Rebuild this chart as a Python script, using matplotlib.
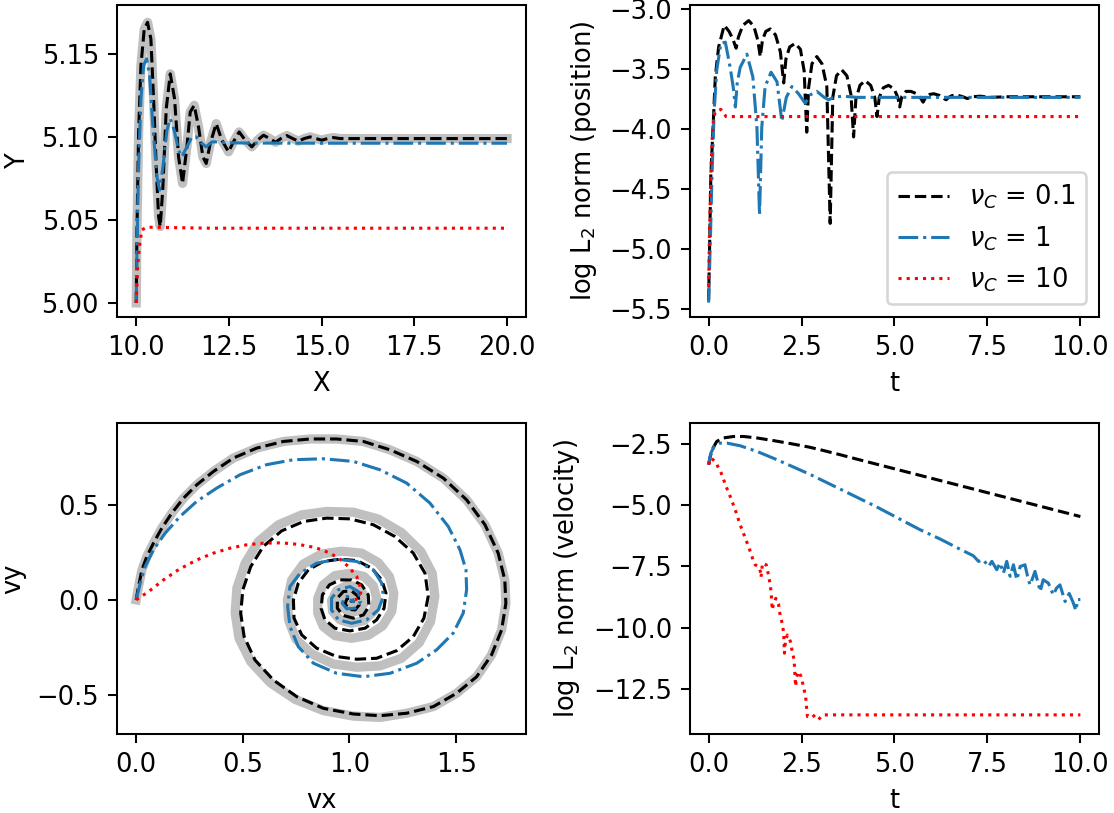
import matplotlib
matplotlib.use("Agg")
import matplotlib.pyplot as plt

# ---- top left: trajectory X, Y ----
X_01 = [10.0, 10.018, 10.063, 10.126, 10.216, 10.305, 10.395, 10.467, 10.539, 10.602, 10.647,
        10.719, 10.809, 10.917, 11.033, 11.141, 11.249, 11.366, 11.456, 11.563, 11.68, 11.797,
        11.887, 11.995, 12.156, 12.31, 12.489, 12.62, 12.776, 12.94, 13.118, 13.27, 13.432, 13.6,
        13.756, 13.9, 14.06, 14.22, 14.375, 14.53, 14.69, 14.85, 15.0, 15.16, 15.32, 15.5, 16.0,
        17.0, 18.0, 19.0, 20.0]
Y_01 = [5.000, 5.042, 5.102, 5.143, 5.165, 5.169, 5.159, 5.123, 5.082, 5.052, 5.046,
        5.070, 5.117, 5.138, 5.123, 5.088, 5.072, 5.094, 5.115, 5.119, 5.106, 5.088,
        5.084, 5.096, 5.108, 5.098, 5.091, 5.097, 5.103, 5.098, 5.094, 5.098, 5.101, 5.099,
        5.0968, 5.099, 5.1008, 5.099, 5.0974, 5.099, 5.1000, 5.099, 5.098, 5.099, 5.0996, 5.099,
        5.099, 5.099, 5.099, 5.099, 5.099]
X_1 = [10.0, 10.018, 10.063, 10.126, 10.198, 10.28, 10.36, 10.45, 10.557, 10.63, 10.72, 10.827,
       10.917, 11.024, 11.141, 11.23, 11.366, 11.5, 11.617, 11.77, 11.887, 12.04, 12.17, 12.4,
       13.0, 15.0, 17.5, 20.0]
Y_1 = [5.000, 5.032, 5.082, 5.123, 5.143, 5.147, 5.137, 5.106, 5.076, 5.068, 5.082, 5.104,
       5.111, 5.104, 5.092, 5.088, 5.094, 5.100, 5.100, 5.096, 5.094, 5.097, 5.097, 5.0965,
       5.0963, 5.0962, 5.0962, 5.0962]
X_10 = [10.0, 10.036, 10.08, 10.15, 10.29, 12.0, 15.0, 20.0]
Y_10 = [5.0, 5.021, 5.033, 5.044, 5.0456, 5.045, 5.045, 5.045]
# reference curve (grey) coincides with nu_C = 0.1 here
X_ref = X_01
Y_ref = Y_01

# ---- top right: log L2 norm of position error ----
tp_01 = [0.0, 0.03, 0.06, 0.12, 0.18, 0.27, 0.42, 0.55, 0.66, 0.74, 0.80, 0.92, 1.08, 1.22,
         1.32, 1.39, 1.45, 1.54, 1.66, 1.80, 1.93, 2.02, 2.08, 2.18, 2.33, 2.47, 2.57, 2.64,
         2.69, 2.78, 2.91, 3.05, 3.18, 3.27, 3.34, 3.44, 3.58, 3.72, 3.83, 3.90, 3.96, 4.07,
         4.21, 4.36, 4.47, 4.53, 4.59, 4.70, 4.84, 4.99, 5.09, 5.14, 5.20, 5.31, 5.44, 5.60,
         5.71, 5.77, 5.84, 5.95, 6.06, 6.22, 6.33, 6.39, 6.46, 6.55, 6.67, 6.84, 6.96, 7.1,
         7.3, 7.6, 8.0, 9.0, 10.0]
lp_01 = [-5.43, -4.94, -4.39, -3.99, -3.57, -3.32, -3.14, -3.19, -3.26, -3.33, -3.24, -3.14,
         -3.10, -3.15, -3.26, -3.40, -3.26, -3.19, -3.17, -3.22, -3.36, -3.62, -3.42, -3.32,
         -3.29, -3.34, -3.52, -4.03, -3.66, -3.46, -3.40, -3.46, -3.65, -4.79, -3.74, -3.56,
         -3.51, -3.56, -3.72, -4.07, -3.76, -3.64, -3.60, -3.64, -3.74, -3.90, -3.74, -3.66,
         -3.64, -3.67, -3.74, -3.82, -3.73, -3.69, -3.69, -3.71, -3.75, -3.78, -3.74, -3.715,
         -3.71, -3.725, -3.75, -3.76, -3.74, -3.725, -3.72, -3.735, -3.75, -3.735, -3.73,
         -3.74, -3.735, -3.735, -3.735]
tp_1 = [0.0, 0.045, 0.09, 0.15, 0.22, 0.33, 0.45, 0.58, 0.66, 0.72, 0.77, 0.85, 1.03, 1.19,
        1.30, 1.37, 1.43, 1.52, 1.68, 1.84, 1.97, 2.09, 2.24, 2.42, 2.60, 2.73, 2.91, 3.11,
        3.23, 3.36, 3.6, 4.0, 6.0, 8.0, 10.0]
lp_1 = [-5.45, -4.96, -4.40, -3.85, -3.51, -3.29, -3.28, -3.49, -3.65, -3.82, -3.62, -3.49,
        -3.38, -3.57, -3.99, -4.72, -3.99, -3.65, -3.53, -3.61, -3.94, -3.74, -3.65, -3.71,
        -3.79, -3.72, -3.69, -3.74, -3.76, -3.74, -3.73, -3.74, -3.74, -3.74, -3.74]
tp_10 = [0.0, 0.027, 0.063, 0.099, 0.135, 0.19, 0.33, 0.47, 0.7, 10.0]
lp_10 = [-5.32, -4.82, -4.35, -4.07, -3.90, -3.86, -3.84, -3.90, -3.90, -3.90]

# ---- bottom left: velocity space ----
vx_01 = [0.0, 0.011, 0.027, 0.050, 0.081, 0.120, 0.167, 0.222, 0.284, 0.362, 0.456, 0.565,
         0.690, 0.815, 0.940, 1.065, 1.190, 1.315, 1.440, 1.549, 1.635, 1.697, 1.728, 1.733,
         1.713, 1.666, 1.596, 1.502, 1.393, 1.268, 1.143, 1.018, 0.877, 0.753, 0.643, 0.557,
         0.506, 0.490, 0.500, 0.537, 0.596, 0.682, 0.784, 0.893, 1.002, 1.112, 1.213, 1.299,
         1.354, 1.369, 1.349, 1.299, 1.221, 1.127, 1.034, 0.940, 0.846, 0.776, 0.740, 0.737,
         0.760, 0.807, 0.877, 0.956, 1.034, 1.104, 1.151, 1.171, 1.162, 1.127, 1.073, 1.002,
         0.932, 0.885, 0.867, 0.873, 0.906, 0.956, 1.010, 1.057, 1.088, 1.091, 1.065, 1.018,
         0.971, 0.943, 0.943, 0.971, 1.010, 1.041, 1.046, 1.026, 0.995, 0.979, 0.990, 1.010,
         1.018, 1.002]
vy_01 = [0.0, 0.070, 0.158, 0.228, 0.298, 0.377, 0.456, 0.535, 0.605, 0.675, 0.746, 0.798,
         0.833, 0.846, 0.846, 0.833, 0.789, 0.728, 0.640, 0.526, 0.395, 0.246, 0.105, -0.018,
         -0.158, -0.289, -0.404, -0.491, -0.561, -0.596, -0.609, -0.600, -0.570, -0.509,
         -0.421, -0.316, -0.193, -0.070, 0.053, 0.175, 0.281, 0.363, 0.412, 0.430, 0.426,
         0.395, 0.333, 0.246, 0.140, 0.018, -0.096, -0.193, -0.267, -0.307, -0.312, -0.298,
         -0.254, -0.184, -0.096, 0.000, 0.088, 0.158, 0.202, 0.214, 0.207, 0.167, 0.105, 0.035,
         -0.044, -0.105, -0.149, -0.163, -0.149, -0.105, -0.044, 0.026, 0.079, 0.105, 0.105,
         0.079, 0.026, -0.035, -0.079, -0.096, -0.082, -0.044, 0.009, 0.044, 0.047, 0.018,
         -0.026, -0.053, -0.049, -0.018, 0.009, 0.009, -0.009, -0.004]
vx_1 = [0.0, 0.019, 0.042, 0.081, 0.136, 0.206, 0.284, 0.378, 0.487, 0.612, 0.737, 0.877,
        1.018, 1.143, 1.268, 1.377, 1.463, 1.518, 1.546, 1.549, 1.533, 1.486, 1.408, 1.315,
        1.190, 1.065, 0.940, 0.831, 0.760, 0.721, 0.710, 0.721, 0.768, 0.846, 0.940, 1.034,
        1.112, 1.151, 1.159, 1.135, 1.080, 1.010, 0.948, 0.916, 0.916, 0.948, 1.002, 1.041,
        1.052, 1.026, 0.987, 0.966, 0.979, 1.010, 1.018, 1.002]
vy_1 = [0.0, 0.088, 0.175, 0.263, 0.351, 0.439, 0.518, 0.588, 0.658, 0.711, 0.737, 0.742,
        0.728, 0.684, 0.614, 0.509, 0.386, 0.263, 0.158, 0.053, -0.070, -0.175, -0.263,
        -0.333, -0.386, -0.404, -0.386, -0.333, -0.246, -0.140, -0.035, 0.070, 0.140, 0.193,
        0.214, 0.202, 0.158, 0.088, 0.018, -0.053, -0.105, -0.123, -0.105, -0.053, 0.009,
        0.053, 0.070, 0.044, -0.009, -0.044, -0.047, -0.018, 0.018, 0.018, -0.009, 0.000]
vx_10 = [0.0, 0.06, 0.128, 0.20, 0.284, 0.36, 0.44, 0.52, 0.596, 0.68, 0.76, 0.84, 0.909,
         0.96, 0.995, 1.034, 1.055, 1.049, 1.03, 1.018, 1.005]
vy_10 = [0.0, 0.045, 0.105, 0.16, 0.21, 0.245, 0.272, 0.29, 0.298, 0.30, 0.292, 0.275, 0.246,
         0.21, 0.175, 0.123, 0.053, 0.018, 0.002, -0.004, 0.0]
vx_ref = vx_01[:31] + [1.018, 0.877, 0.745, 0.628, 0.537, 0.482, 0.464, 0.472, 0.511, 0.573,
                       0.667, 0.776, 0.893, 1.018, 1.135, 1.244, 1.335, 1.388, 1.400, 1.380,
                       1.327, 1.244, 1.143, 1.034, 0.924, 0.823, 0.749, 0.714, 0.709, 0.729,
                       0.784, 0.870, 0.963, 1.057, 1.135, 1.187, 1.208, 1.198, 1.155, 1.088,
                       1.010, 0.932, 0.877, 0.851, 0.851, 0.877, 0.932, 1.002, 1.068, 1.112,
                       1.127, 1.112, 1.068, 1.010, 0.956, 0.921, 0.916, 0.940, 0.987, 1.034,
                       1.065, 1.068, 1.041, 1.002, 0.971, 0.963, 0.984, 1.018, 1.034, 1.021,
                       0.999, 0.990, 1.002]
vy_ref = vy_01[:30] + [-0.618, -0.611, -0.582, -0.523, -0.435, -0.325, -0.202, -0.070, 0.061,
                       0.193, 0.307, 0.395, 0.447, 0.465, 0.461, 0.425, 0.354, 0.254, 0.140,
                       0.018, -0.114, -0.225, -0.307, -0.347, -0.354, -0.337, -0.284, -0.207,
                       -0.105, 0.000, 0.105, 0.189, 0.242, 0.256, 0.246, 0.196, 0.123, 0.035,
                       -0.061, -0.137, -0.186, -0.202, -0.188, -0.140, -0.070, 0.009, 0.079,
                       0.128, 0.140, 0.123, 0.074, 0.009, -0.061, -0.109, -0.123, -0.105,
                       -0.061, -0.004, 0.049, 0.075, 0.070, 0.032, -0.018, -0.058, -0.065,
                       -0.044, -0.004, 0.030, 0.032, 0.000, -0.032, -0.032, -0.009, 0.004]

# ---- bottom right: log L2 norm of velocity error ----
tv_01 = [0.0, 0.045, 0.12, 0.22, 0.40, 0.67, 0.94, 1.3, 1.75, 2.2, 2.69, 3.0, 3.5, 4.0, 5.0,
         6.0, 7.0, 8.0, 9.0, 10.0]
lv_01 = [-3.34, -3.0, -2.66, -2.39, -2.25, -2.19, -2.19, -2.25, -2.36, -2.48, -2.62, -2.73,
         -2.92, -3.12, -3.51, -3.9, -4.29, -4.68, -5.07, -5.46]
tv_1 = [0.0, 0.06, 0.15, 0.31, 0.49, 0.85, 1.3, 1.84, 2.73, 3.5, 4.5, 5.69, 6.23, 6.59, 6.85,
        7.12, 7.26, 7.39, 7.53, 7.62, 7.75, 7.84, 7.93, 8.02, 8.11, 8.2, 8.29, 8.38, 8.51, 8.6,
        8.65, 8.78, 8.92, 9.0, 9.14, 9.27, 9.36, 9.45, 9.59, 9.7, 9.8, 9.88, 9.93, 10.0]
lv_1 = [-3.34, -2.87, -2.6, -2.46, -2.46, -2.57, -2.8, -3.14, -3.74, -4.31, -5.05, -6.0, -6.38,
        -6.66, -6.86, -7.06, -7.29, -7.23, -7.5, -7.29, -7.63, -7.36, -7.77, -7.29, -7.9, -7.43,
        -8.04, -7.5, -7.43, -8.04, -8.25, -7.7, -8.52, -8.04, -8.18, -8.66, -8.38, -8.25, -8.93,
        -8.6, -8.95, -9.3, -8.85, -8.85]
tv_10 = [0.0, 0.06, 0.18, 0.34, 0.47, 0.60, 0.73, 0.85, 0.97, 1.09, 1.18, 1.25, 1.34, 1.41,
         1.41, 1.45, 1.55, 1.59, 1.66, 1.69, 1.71, 1.75, 1.81, 1.88, 1.93, 1.98, 2.02, 2.04,
         2.07, 2.12, 2.2, 2.24, 2.30, 2.34, 2.37, 2.42, 2.49, 2.55, 2.61, 2.64, 2.66, 2.8, 2.94,
         3.08, 10.0]
lv_10 = [-3.34, -3.07, -3.21, -3.69, -4.23, -4.71, -5.25, -5.80, -6.27, -6.75, -7.16, -7.43,
         -7.5, -7.77, -7.94, -7.36, -7.43, -7.70, -8.25, -8.73, -9.27, -9.0, -8.8, -9.03,
         -9.54, -9.82, -10.22, -11.04, -10.5, -10.3, -10.56, -10.9, -11.31, -12.4, -12.0,
         -11.79, -12.0, -12.4, -12.81, -13.36, -13.63, -13.56, -13.77, -13.56, -13.56]

labels = [r'$\nu_C$ = 0.1', r'$\nu_C$ = 1', r'$\nu_C$ = 10']

DPI = 185
LW = 1.2
GREY_LW = 3.6
fig = plt.figure(figsize=(1114 / DPI, 813 / DPI), dpi=DPI)
ax1 = fig.add_axes([0.1050, 0.6101, 0.3671, 0.3838])
ax2 = fig.add_axes([0.6194, 0.6101, 0.3671, 0.3838])
ax3 = fig.add_axes([0.1050, 0.0972, 0.3671, 0.3825])
ax4 = fig.add_axes([0.6194, 0.0972, 0.3671, 0.3825])

ax1.plot(X_ref, Y_ref, color='silver', lw=GREY_LW)
ax1.plot(X_01, Y_01, 'k--', lw=LW)
ax1.plot(X_1, Y_1, '-.', color='tab:blue', lw=LW)
ax1.plot(X_10, Y_10, 'r:', lw=LW)
ax1.set_xlim(9.48, 20.51)
ax1.set_ylim(4.9915, 5.1795)
ax1.set_xticks([10.0, 12.5, 15.0, 17.5, 20.0])
ax1.set_yticks([5.00, 5.05, 5.10, 5.15])
ax1.set_xlabel('X')
ax1.set_ylabel('Y')

ax2.plot(tp_01, lp_01, 'k--', lw=LW, label=labels[0])
ax2.plot(tp_1, lp_1, '-.', color='tab:blue', lw=LW, label=labels[1])
ax2.plot(tp_10, lp_10, 'r:', lw=LW, label=labels[2])
ax2.set_xlim(-0.5, 10.5)
ax2.set_ylim(-5.57, -2.97)
ax2.set_xticks([0.0, 2.5, 5.0, 7.5, 10.0])
ax2.set_yticks([-3.0, -3.5, -4.0, -4.5, -5.0, -5.5])
ax2.set_xlabel('t')
ax2.set_ylabel('log L$_2$ norm (position)')
ax2.legend(loc='lower right')

ax3.plot(vx_ref, vy_ref, color='silver', lw=GREY_LW)
ax3.plot(vx_01, vy_01, 'k--', lw=LW)
ax3.plot(vx_1, vy_1, '-.', color='tab:blue', lw=LW)
ax3.plot(vx_10, vy_10, 'r:', lw=LW)
ax3.set_xlim(-0.09, 1.827)
ax3.set_ylim(-0.705, 0.93)
ax3.set_xticks([0.0, 0.5, 1.0, 1.5])
ax3.set_yticks([-0.5, 0.0, 0.5])
ax3.set_xlabel('vx')
ax3.set_ylabel('vy')

ax4.plot(tv_01, lv_01, 'k--', lw=LW)
ax4.plot(tv_1, lv_1, '-.', color='tab:blue', lw=LW)
ax4.plot(tv_10, lv_10, 'r:', lw=LW)
ax4.set_xlim(-0.5, 10.5)
ax4.set_ylim(-14.34, -1.64)
ax4.set_xticks([0.0, 2.5, 5.0, 7.5, 10.0])
ax4.set_yticks([-2.5, -5.0, -7.5, -10.0, -12.5])
ax4.set_xlabel('t')
ax4.set_ylabel('log L$_2$ norm (velocity)')

fig.savefig('out.png', dpi=DPI)
